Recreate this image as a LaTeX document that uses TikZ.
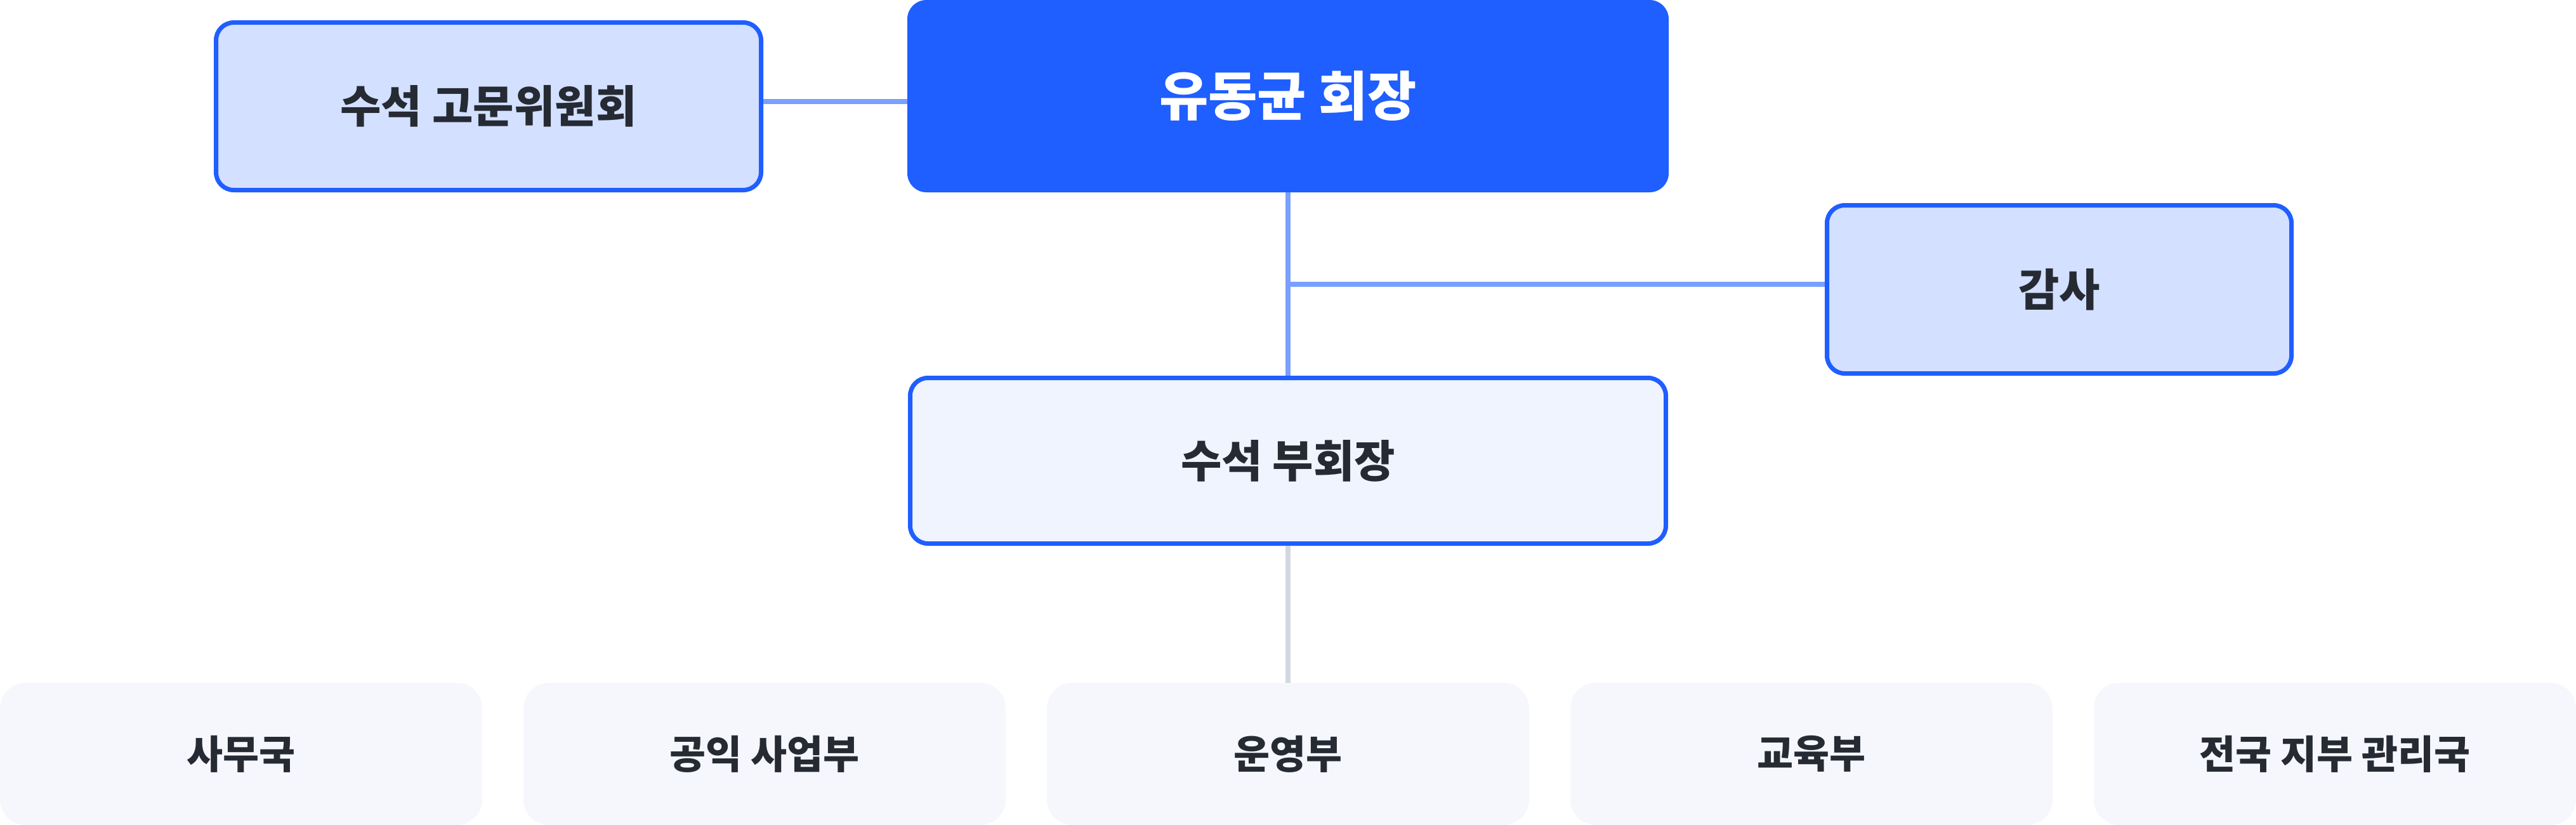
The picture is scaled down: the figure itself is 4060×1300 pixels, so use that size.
\documentclass[tikz,border=0pt]{standalone}
\usepackage{fontspec}
\newfontfamily\kr{Noto Sans CJK KR}
\definecolor{mainblue}{HTML}{1F5EFF}
\definecolor{lightblue}{HTML}{D3E0FF}
\definecolor{paleblue}{HTML}{EFF4FF}
\definecolor{linkblue}{HTML}{7AA0FF}
\definecolor{cardgray}{HTML}{F5F7FC}
\definecolor{linkgray}{HTML}{D3D7E0}
\definecolor{txt}{HTML}{262A33}
\begin{document}
\begin{tikzpicture}[x=1pt,y=-1pt,
  presbox/.style={fill=mainblue, rounded corners=30pt, minimum width=1200pt, minimum height=303pt, inner sep=0pt, text=white, font=\kr\bfseries\fontsize{84pt}{98pt}\selectfont},
  bluebox/.style={draw=mainblue, line width=7pt, fill=lightblue, rounded corners=28pt, inner sep=0pt, text=txt, font=\kr\bfseries\fontsize{70pt}{84pt}\selectfont},
  vpbox/.style={draw=mainblue, line width=7pt, fill=paleblue, rounded corners=28pt, inner sep=0pt, text=txt, font=\kr\bfseries\fontsize{70pt}{84pt}\selectfont},
  deptbox/.style={fill=cardgray, rounded corners=40pt, minimum width=760pt, minimum height=224pt, inner sep=0pt, text=txt, font=\kr\bfseries\fontsize{62pt}{74pt}\selectfont},
  conn/.style={draw=linkblue, line width=8pt},
  conngray/.style={draw=linkgray, line width=8pt}
]
\useasboundingbox (0,0) rectangle (4060,1300);

\node[presbox] (pres) at (2030,151.5) {유동균 회장};
\node[bluebox, minimum width=859pt, minimum height=264pt] (adv) at (770,167.5) {수석 고문위원회};
\node[bluebox, minimum width=732pt, minimum height=265pt] (audit) at (3245.5,456) {감사};
\node[vpbox, minimum width=1191pt, minimum height=261pt] (vp) at (2030,726) {수석 부회장};

\node[deptbox] (d1) at (380,1188) {사무국};
\node[deptbox] (d2) at (1205,1188) {공익 사업부};
\node[deptbox] (d3) at (2030,1188) {운영부};
\node[deptbox] (d4) at (2855,1188) {교육부};
\node[deptbox] (d5) at (3680,1188) {전국 지부 관리국};

\draw[conn] ([yshift=7.5pt]adv.east) -- ([yshift=7.5pt]adv.east -| pres.west);
\draw[conn] (pres.south) -- (vp.north);
\draw[conn] ([yshift=8pt]audit.west) -- ([yshift=8pt]audit.west -| pres.south);
\draw[conngray] (vp.south) -- (d3.north);
\end{tikzpicture}
\end{document}
